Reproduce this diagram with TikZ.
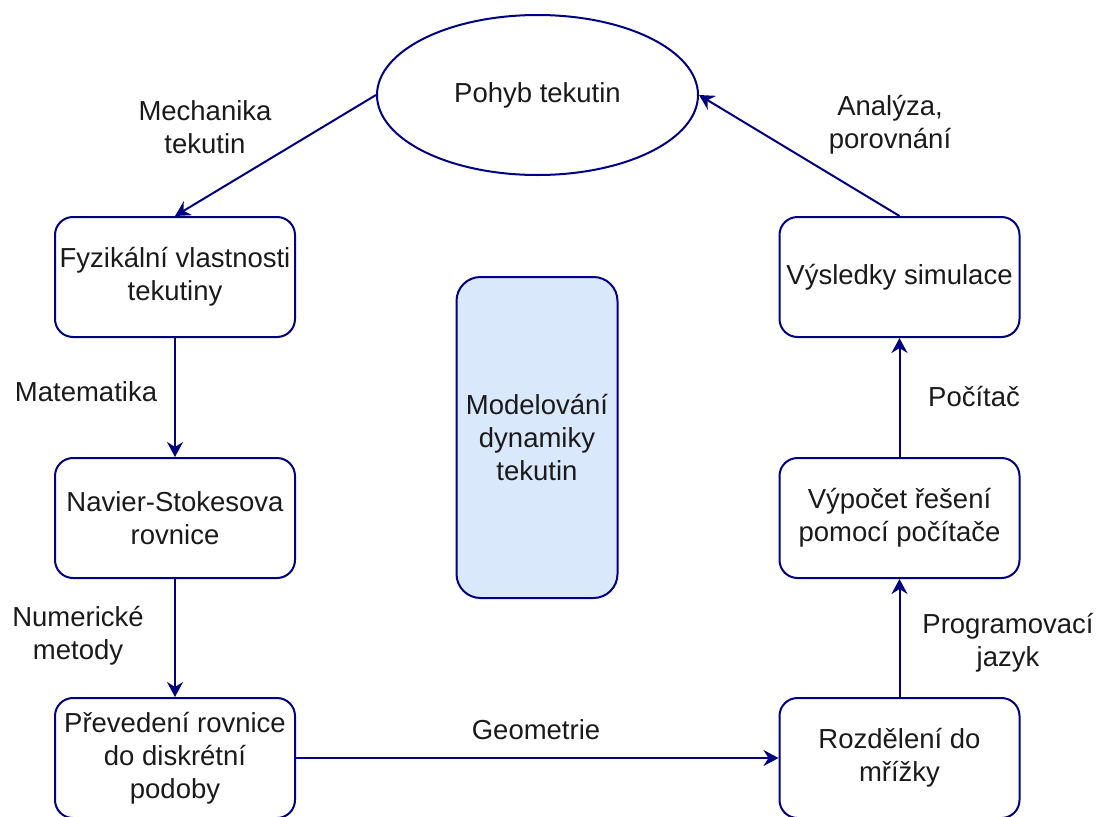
\documentclass[tikz,border=0pt]{standalone}
\usepackage{fontspec}
\setmainfont{Liberation Sans}
\usepackage{tikz}
\usetikzlibrary{positioning, shapes.geometric, arrows.meta}
\definecolor{edgeblue}{HTML}{000080}
\definecolor{boxfill}{HTML}{DAE8FC}
\definecolor{textgray}{HTML}{1A1A1A}
\tikzset{box/.style = {rectangle,draw=edgeblue,line width=2pt,rounded corners=18pt,
                       minimum width=240pt,minimum height=120pt,align=center,text=textgray,
                       inner sep=0pt},
         oval/.style = {ellipse,draw=edgeblue,line width=2pt,minimum width=321pt,
                        minimum height=160pt,text=textgray,inner sep=0pt},
         lbl/.style = {align=center,text=textgray,inner sep=0pt},
         link/.style = {draw=edgeblue,line width=2pt,-{Stealth[length=15pt,width=16pt,inset=5pt]}}}

\begin{document}
\begin{tikzpicture}[x=1pt,y=-1pt,font=\fontsize{27.5}{33}\selectfont]
                    \clip (0,0) rectangle (1099,816);

                    % cyklus vlevo
                    \node [oval] (pohyb) at (537.5,  95) {Pohyb tekutin};
                    \node [box]  (fyz)   at (175,  277) {Fyzikální vlastnosti\\tekutiny};
                    \node [box]  (ns)    at (175,  518) {Navier-Stokesova\\rovnice};
                    \node [box]  (prev)  at (175,  758) {Převedení rovnice\\do diskrétní\\podoby};

                    % cyklus vpravo
                    \node [box]  (rozd)  at (899.5, 758) {Rozdělení do\\mřížky};
                    \node [box]  (vyp)   at (899.5, 518) {Výpočet řešení\\pomocí počítače};
                    \node [box]  (vys)   at (899.5, 277) {Výsledky simulace};

                    \node [box,fill=boxfill,minimum width=161pt,minimum height=321pt,
                           rounded corners=24pt] (model) at (537, 437.5) {Modelování\\dynamiky\\tekutin};

                    \node [lbl] (l1) at (205,  127) {Mechanika\\tekutin};
                    \node [lbl] (l2) at ( 86,  392) {Matematika};
                    \node [lbl] (l3) at ( 78,  636) {Numerické\\metody};
                    \node [lbl] (l4) at (536,  730) {Geometrie};
                    \node [lbl] (l5) at (1008, 643) {Programovací\\jazyk};
                    \node [lbl] (l6) at (974,  397) {Počítač};
                    \node [lbl] (l7) at (890,  125) {Analýza,\\porovnání};

                    \draw [link] (pohyb.west) -- (fyz.north);
                    \draw [link] (fyz) -- (ns);
                    \draw [link] (ns) -- (prev);
                    \draw [link] (prev) -- (rozd);
                    \draw [link] (rozd) -- (vyp);
                    \draw [link] (vyp) -- (vys);
                    \draw [link] (vys.north) -- (pohyb.east);
                \end{tikzpicture}
\end{document}
